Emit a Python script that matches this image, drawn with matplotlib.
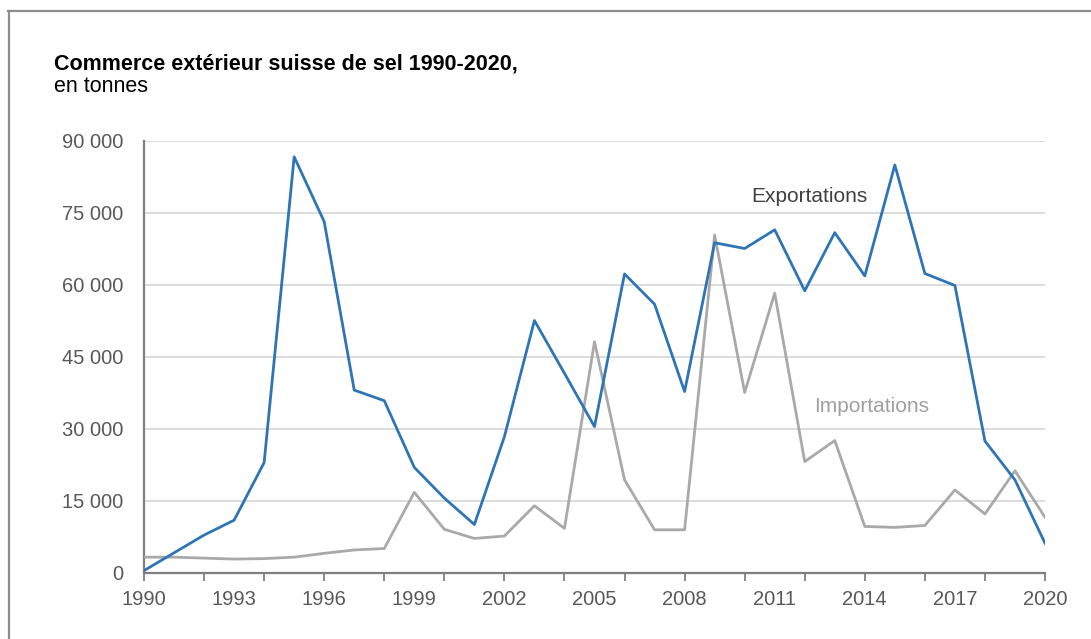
import numpy as np
import matplotlib.pyplot as plt
from matplotlib.lines import Line2D
from matplotlib.ticker import FuncFormatter, MultipleLocator, FixedLocator

plt.rcParams['font.family'] = ['Liberation Sans', 'DejaVu Sans']

# Years and values (tonnes)
years = list(range(1990, 2021))
exportations = [500, 4200, 7900, 11000, 23000, 86700, 73200, 38100, 35900, 22000,
                15600, 10100, 28400, 52600, 41600, 30500, 62300, 56000, 37800, 68800,
                67600, 71500, 58800, 70900, 61900, 85000, 62400, 59900, 27500, 19400,
                6200]
importations = [3300, 3300, 3100, 2900, 3000, 3300, 4100, 4800, 5100, 16800,
                9100, 7200, 7700, 14000, 9300, 48200, 19400, 9000, 9000, 70400,
                37600, 58300, 23200, 27600, 9700, 9500, 9900, 17300, 12300, 21300,
                11600]
label_years = list(range(1990, 2021, 3))

blue = '#2e75b6'
grey = '#a9a9a9'

fig = plt.figure(figsize=(10.91, 6.39), dpi=100)
ax = fig.add_axes([144 / 1091, 1 - 573 / 639, (1045 - 144) / 1091, (573 - 141) / 639])

ax.plot(years, importations, color=grey, lw=2.0, zorder=3)
ax.plot(years, exportations, color=blue, lw=2.0, zorder=4)

ax.set_xlim(1990, 2020)
ax.set_ylim(0, 90000)

# y axis
ax.yaxis.set_major_locator(MultipleLocator(15000))
ax.yaxis.set_major_formatter(FuncFormatter(lambda v, p: f'{int(v):,}'.replace(',', ' ')))
ax.grid(axis='y', color='#d9d9d9', lw=1.3, zorder=0)
ax.tick_params(axis='y', length=0, pad=15, labelsize=14.5, labelcolor='#595959')

# x axis: ticks every 2 years, labels every 3 years
ax.xaxis.remove_overlapping_locs = False
ax.xaxis.set_major_locator(MultipleLocator(2))
ax.xaxis.set_major_formatter(FuncFormatter(lambda v, p: ''))
ax.xaxis.set_minor_locator(FixedLocator(label_years))
ax.xaxis.set_minor_formatter(FuncFormatter(lambda v, p: f'{int(round(v))}'))
ax.tick_params(axis='x', which='major', length=6, width=1.3, color='#7f7f7f', direction='out')
ax.tick_params(axis='x', which='minor', length=0, pad=12, labelsize=14.5, labelcolor='#595959')

for s in ['top', 'right']:
    ax.spines[s].set_visible(False)
for s in ['left', 'bottom']:
    ax.spines[s].set_color('#7f7f7f')
    ax.spines[s].set_linewidth(1.6)

ax.text(2012.16, 78500, 'Exportations', color='#404040', fontsize=15, ha='center', va='center')
ax.text(2014.23, 34600, 'Importations', color='#a0a0a0', fontsize=15, ha='center', va='center')

# titles
fig.text(54 / 1091, 1 - 64 / 639, 'Commerce extérieur suisse de sel 1990-2020,',
         fontsize=15.5, fontweight='bold', color='#000000', va='center')
fig.text(54 / 1091, 1 - 86 / 639, 'en tonnes', fontsize=15.5, color='#000000', va='center')

# frame around the chart (open to the right and bottom)
fig.add_artist(Line2D([8 / 1091, 1.0], [1 - 10.5 / 639, 1 - 10.5 / 639],
                      transform=fig.transFigure, color='#8c8c8c', lw=1.6))
fig.add_artist(Line2D([8.5 / 1091, 8.5 / 1091], [1 - 10.5 / 639, 0.0],
                      transform=fig.transFigure, color='#8c8c8c', lw=1.6))

fig.savefig('out.png', dpi=100)
